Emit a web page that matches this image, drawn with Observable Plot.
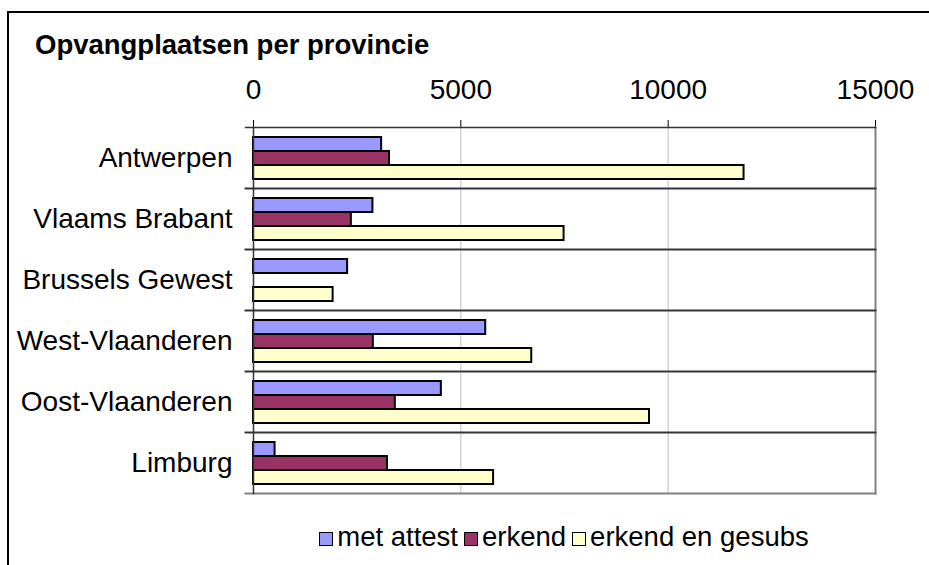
<!DOCTYPE html>
<html>
<head>
<meta charset="utf-8">
<script src="https://cdn.jsdelivr.net/npm/d3@7"></script>
<script src="https://cdn.jsdelivr.net/npm/@observablehq/plot@0.6"></script>
<style>
  html, body { margin: 0; padding: 0; background: #fff; }
  #wrap { position: relative; width: 929px; height: 565px; overflow: hidden; background: #fff;
          font-family: "Liberation Sans", Arial, sans-serif; color: #000; }
  #border { position: absolute; left: 7px; top: 11px; width: 1200px; height: 1200px; border: 2px solid #000; }
  #title { position: absolute; left: 35px; top: 31px; font-size: 27.5px; line-height: 27px; font-weight: bold; white-space: nowrap; }
  #chart { position: absolute; left: 0; top: 0; }
  #legend { position: absolute; left: 253px; width: 622px; top: 523px; display: flex; justify-content: center;
            align-items: center; font-size: 27.5px; line-height: 28px; white-space: nowrap; }
  .item { display: flex; align-items: center; margin: 0 3px; }
  .sw { width: 12px; height: 12px; border: 1.5px solid #000; margin-right: 4px; margin-top: 4px; }
</style>
</head>
<body>
<div id="wrap">
  <div id="border"></div>
  <div id="chart"></div>
  <div id="title">Opvangplaatsen per provincie</div>
  <div id="legend"></div>
</div>
<script>
const provinces = ["Antwerpen", "Vlaams Brabant", "Brussels Gewest", "West-Vlaanderen", "Oost-Vlaanderen", "Limburg"];
const series = ["met attest", "erkend", "erkend en gesubs"];
const metAttest = [3090, 2880, 2270, 5600, 4530, 520];
const erkend = [3280, 2360, null, 2890, 3420, 3230];
const erkendGesubs = [11830, 7490, 1920, 6710, 9550, 5790];
const colors = ["#9999ff", "#993366", "#ffffcc"];
const xTicks = [0, 5000, 10000, 15000];

const seriesValues = [metAttest, erkend, erkendGesubs];
const data = provinces.flatMap((p, i) =>
  seriesValues.map((arr, j) => ({province: p, series: series[j], value: arr[i]}))
).filter(d => d.value != null);

const chart = Plot.plot({
  width: 929,
  height: 500,
  marginTop: 126,
  marginLeft: 253,
  marginRight: 54,
  marginBottom: 6,
  style: {fontFamily: "'Liberation Sans', Arial, sans-serif", fontSize: "28px", color: "#000", background: "transparent", overflow: "visible"},
  facet: {data, y: "province"},
  x: {domain: [xTicks[0], xTicks[xTicks.length - 1]], axis: "top", ticks: xTicks, tickSize: 8, tickPadding: 21, tickFormat: d => String(d), label: null},
  y: {domain: series, axis: null, paddingInner: 0, paddingOuter: 0.66, align: 0.52},
  fy: {domain: provinces, padding: 0, axis: "left", tickSize: 0, tickPadding: 21, label: null},
  color: {domain: series, range: colors},
  marks: [
    Plot.ruleX(xTicks.slice(1, -1), {stroke: "#d4d4d4", strokeWidth: 1.5}),
    Plot.frame({anchor: "bottom", stroke: "#808080", strokeWidth: 2, insetLeft: -8}),
    Plot.frame({anchor: "right", stroke: "#808080", strokeWidth: 2}),
    Plot.barX(data, {x: "value", y: "series", fill: "series", stroke: "#000", strokeWidth: 2}),
    Plot.frame({anchor: "top", stroke: "#333", strokeWidth: 1.5, insetLeft: -8}),
    Plot.frame({anchor: "left", stroke: "#333", strokeWidth: 1.5})
  ]
});
document.getElementById("chart").appendChild(chart);

const legend = document.getElementById("legend");
series.forEach((s, i) => {
  const item = document.createElement("div");
  item.className = "item";
  const sw = document.createElement("div");
  sw.className = "sw";
  sw.style.background = colors[i];
  const t = document.createElement("span");
  t.textContent = s;
  item.appendChild(sw);
  item.appendChild(t);
  legend.appendChild(item);
});
</script>
</body>
</html>
